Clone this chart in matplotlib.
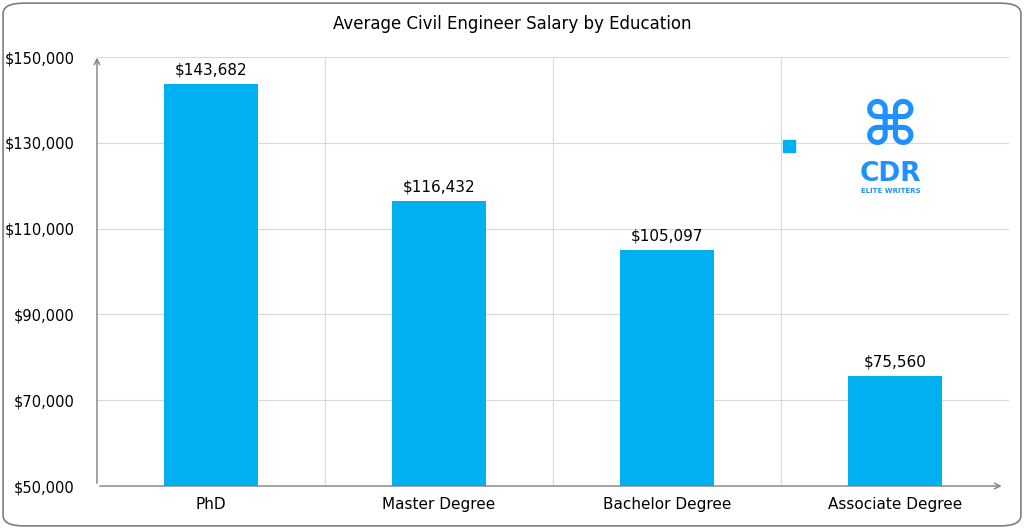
import matplotlib.pyplot as plt
from matplotlib.patches import FancyBboxPatch

categories = ['PhD', 'Master Degree', 'Bachelor Degree', 'Associate Degree']
salaries = [143682, 116432, 105097, 75560]
yticks = [50000, 70000, 90000, 110000, 130000, 150000]

fig = plt.figure(figsize=(10.24, 5.28), dpi=100)
border = FancyBboxPatch((0.003, 0.004), 0.994, 0.99, boxstyle='round,pad=0,rounding_size=0.02',
                        transform=fig.transFigure, facecolor='none', edgecolor='#7f7f7f', lw=1.2)
fig.patches.append(border)

ax = fig.add_axes([0.0947, 0.0795, 0.8906, 0.8125])
ax.set_facecolor('none')
x = range(len(categories))
ax.bar(x, salaries, width=0.41, color='#00B0F0', zorder=3)
for i, v in zip(x, salaries):
    ax.text(i, v + 1500, '${:,}'.format(v), ha='center', va='bottom', fontsize=11)

ax.set_xlim(-0.5, 3.5)
ax.set_ylim(50000, 150000)
ax.set_yticks(yticks)
ax.set_yticklabels(['${:,}'.format(t) for t in yticks], fontsize=10.5)
ax.set_xticks(list(x))
ax.set_xticklabels(categories, fontsize=11)
ax.tick_params(length=0, pad=8)
ax.tick_params(axis='y', pad=16)
for t in yticks[1:]:
    ax.axhline(t, color='#d9d9d9', lw=0.8, zorder=1)
for b in [0.5, 1.5, 2.5]:
    ax.axvline(b, color='#d9d9d9', lw=0.8, zorder=1)
for s in ax.spines.values():
    s.set_visible(False)
ax.annotate('', xy=(-0.5, 150500), xytext=(-0.5, 50000),
            arrowprops=dict(arrowstyle='->', color='#7f7f7f', lw=1), annotation_clip=False)
ax.annotate('', xy=(3.48, 50000), xytext=(-0.5, 50000),
            arrowprops=dict(arrowstyle='->', color='#7f7f7f', lw=1), annotation_clip=False)

# logo
ax.plot([2.535], [129250], 's', color='#00B0F0', ms=8, zorder=4)
ax.text(2.98, 133300, '\u2318', ha='center', va='center', fontsize=44, color='#1E90FF', fontweight='bold')
ax.text(2.98, 122800, 'CDR', ha='center', va='center', fontsize=19, color='#1E90FF', fontweight='bold')
ax.text(2.98, 118800, 'ELITE WRITERS', ha='center', va='center', fontsize=5, color='#1E90FF', fontweight='bold')

fig.text(0.5, 0.955, 'Average Civil Engineer Salary by Education', ha='center', va='center', fontsize=12)
fig.savefig('out.png', dpi=100)
